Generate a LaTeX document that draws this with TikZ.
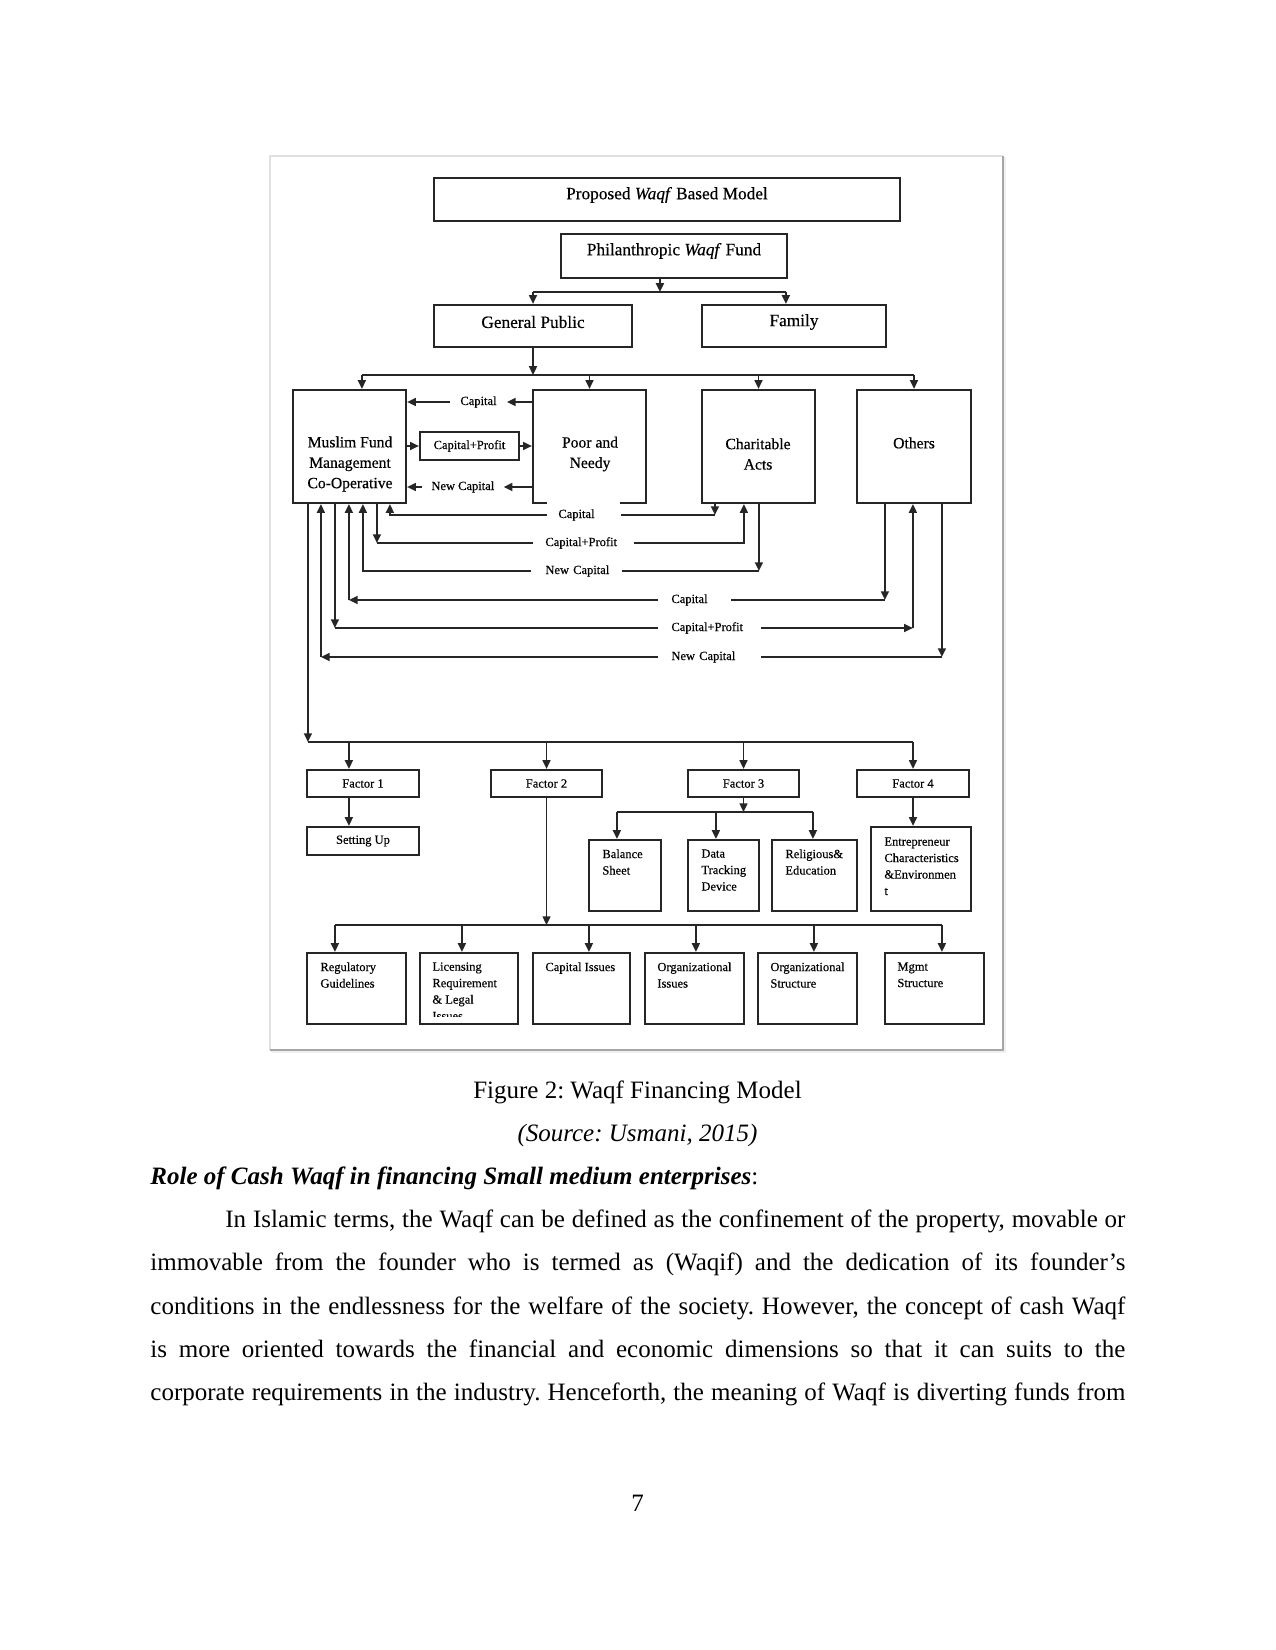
\documentclass[tikz,border=0pt]{standalone}
\usepackage{fontspec}
\setmainfont{Liberation Serif}
\newfontfamily\figfont[FakeBold=0.4]{Liberation Serif}
\usetikzlibrary{arrows.meta,calc,fit}
\begin{document}
\frenchspacing
\begin{tikzpicture}[x=0.48pt,y=-0.48pt,
 box/.style={draw=black!85, line width=1.05pt, inner sep=0pt},
 ln/.style={draw=black!85, line width=0.85pt},
 arr/.style={ln, -{Triangle[length=4.2pt,width=3.8pt]}},
 tbig/.style={inner sep=0pt, font=\figfont\fontsize{8.3}{10}\selectfont},
 tmid/.style={inner sep=0pt, align=center, font=\figfont\fontsize{7.5}{9.8}\selectfont},
 tsm/.style={inner sep=0pt, align=left, font=\figfont\fontsize{6}{7.9}\selectfont},
 tlbl/.style={inner ysep=0pt, font=\figfont\fontsize{6}{7.9}\selectfont},
 tbody/.style={inner sep=0pt, font=\fontsize{12}{14}\selectfont},
]
\useasboundingbox[fill=white] (0,0) rectangle (1275,1650);

% figure frame
\fill[black!6] (271,157) rectangle (1006,1053);
\fill[white] (270,156) rectangle (1003,1050);
\draw[black!12, line width=1pt] (270,1050) -- (270,156) -- (1003,156);
\draw[black!35, line width=1pt] (1003,156) -- (1003,1050) -- (270,1050);

% boxes
\node[box, fit={(434,178) (900,221)}] (prop) {};
\node[box, fit={(561,234) (787,278)}] (phil) {};
\node[box, fit={(434,305) (632,347)}] (gp) {};
\node[box, fit={(702,305) (886,347)}] (fam) {};
\node[box, fit={(293,390) (406,503)}] (mfmc) {};
\node[box, fit={(533,390) (646,503)}] (poor) {};
\node[box, fit={(702,390) (815,503)}] (char) {};
\node[box, fit={(857,390) (971,503)}] (oth) {};
\node[box, fit={(420,432) (519,460)}] (cpbox) {};
\node[box, fit={(307,770) (419,797)}] (f1) {};
\node[box, fit={(491,770) (602,797)}] (f2) {};
\node[box, fit={(688,770) (799,797)}] (f3) {};
\node[box, fit={(857,770) (969,797)}] (f4) {};
\node[box, fit={(307,827) (419,855)}] (setup) {};
\node[box, fit={(589,840) (661,911)}] (bal) {};
\node[box, fit={(688,840) (759,911)}] (data) {};
\node[box, fit={(772,840) (857,911)}] (rel) {};
\node[box, fit={(871,827) (971,911)}] (ent) {};
\node[box, fit={(307,953) (406,1024)}] (reg) {};
\node[box, fit={(420,953) (518,1024)}] (lic) {};
\node[box, fit={(533,953) (630,1024)}] (capi) {};
\node[box, fit={(645,953) (744,1024)}] (orgi) {};
\node[box, fit={(758,953) (857,1024)}] (orgs) {};
\node[box, fit={(885,953) (984,1024)}] (mgmt) {};

% box texts
\node[tbig] (propT) at (667,195) {Proposed \textit{Waqf} Based Model};
\node[tbig] (philT) at (674,251) {Philanthropic \textit{Waqf} Fund};
\node[tbig] (gpT) at (533,322) {General Public};
\node[tbig] (famT) at (794,322) {Family};
\node[tmid] (mfmcT) at (350,464) {Muslim Fund\\Management\\Co-Operative};
\node[tmid] (poorT) at (590,454) {Poor and\\Needy};
\node[tmid] (charT) at (758,454) {Charitable\\Acts};
\node[tmid] (othT) at (914,443) {Others};
\node[tlbl, inner xsep=0pt] (cpT) at (cpbox.center) {Capital+Profit};
\node[tlbl, inner xsep=0pt] (f1T) at (f1.center) {Factor 1};
\node[tlbl, inner xsep=0pt] (f2T) at (f2.center) {Factor 2};
\node[tlbl, inner xsep=0pt] (f3T) at (f3.center) {Factor 3};
\node[tlbl, inner xsep=0pt] (f4T) at (f4.center) {Factor 4};
\node[tlbl, inner xsep=0pt] (setupT) at (setup.center) {Setting Up};
\node[tsm, anchor=north west] (balT) at (602,849) {Balance\\Sheet};
\node[tsm, anchor=north west] (dataT) at (701,849) {Data\\Tracking\\Device};
\node[tsm, anchor=north west] (relT) at (785,849) {Religious\&\\Education};
\node[tsm, anchor=north west] (entT) at (884,837) {Entrepreneur\\Characteristics\\\&Environmen\\t};
\node[tsm, anchor=north west] (regT) at (320,962) {Regulatory\\Guidelines};
\begin{scope}
\clip (420,953) rectangle (518,1016);
\node[tsm, anchor=north west] (licT) at (432,962) {Licensing\\Requirement\\\& Legal\\Issues};
\end{scope}
\node[tsm, anchor=north west] (capiT) at (545,962) {Capital Issues};
\node[tsm, anchor=north west] (orgiT) at (657,962) {Organizational\\Issues};
\node[tsm, anchor=north west] (orgsT) at (770,962) {Organizational\\Structure};
\node[tsm, anchor=north west] (mgmtT) at (897,962) {Mgmt\\Structure};

% top connectors
\coordinate (busA) at (0,292);
\coordinate (philOut) at ($(phil.south west)+(100,0)$);
\coordinate (famIn) at ($(fam.north west)+(85,0)$);
\draw[arr] (philOut) -- (philOut |- busA);
\draw[ln] (gp.north |- busA) -- (famIn |- busA);
\draw[arr] (gp.north |- busA) -- (gp.north);
\draw[arr] (famIn |- busA) -- (famIn);

\coordinate (busB) at (0,375);
\coordinate (mfmcIn) at ($(mfmc.north west)+(70,0)$);
\draw[arr] (gp.south) -- (gp.south |- busB);
\draw[ln] (mfmcIn |- busB) -- (oth.north |- busB);
\draw[arr] (mfmcIn |- busB) -- (mfmcIn);
\draw[arr] (poor.north |- busB) -- (poor.north);
\draw[arr] (char.north |- busB) -- (char.north);
\draw[arr] (oth.north |- busB) -- (oth.north);

% MFMC <-> Poor
\node[tlbl, anchor=west, inner xsep=4.8pt] (T1) at (450,402) {Capital};
\node[tlbl, anchor=west, inner xsep=4.32pt] (T2) at (422,487) {New Capital};
\draw[arr] (poor.west |- T1) -- (T1.east);
\draw[arr] (T1.west) -- (mfmc.east |- T1);
\draw[arr] (poor.west |- T2) -- (T2.east);
\draw[arr] (T2.west) -- (mfmc.east |- T2);
\draw[arr] (mfmc.east |- cpbox) -- (cpbox.west);
\draw[arr] (cpbox.east) -- (poor.west |- cpbox);

% lower row labels
\node[tlbl, anchor=west, inner xsep=5.28pt, text width=24.48pt, align=left, minimum height=13.44pt, fill=white] (L1) at (547,515) {Capital};
\node[tlbl, anchor=west, inner xsep=5.76pt, text width=36.48pt, align=left] (L2) at (533,543) {\mbox{Capital+Profit}};
\node[tlbl, anchor=west, inner xsep=6.72pt, text width=29.76pt, align=left] (L3) at (531,571) {\mbox{New Capital}};
\node[tlbl, anchor=west, inner xsep=6.24pt, text width=22.08pt, align=left] (L4) at (658,600) {Capital};
\node[tlbl, anchor=west, inner xsep=6.24pt, text width=36.48pt, align=left] (L5) at (658,628) {\mbox{Capital+Profit}};
\node[tlbl, anchor=west, inner xsep=6.24pt, text width=36.48pt, align=left] (L6) at (658,657) {\mbox{New Capital}};

\coordinate (m1) at ($(mfmc.south west)+(98,0)$);
\coordinate (m2) at ($(mfmc.south west)+(85,0)$);
\coordinate (m3) at ($(mfmc.south west)+(71,0)$);
\coordinate (m4) at ($(mfmc.south west)+(57,0)$);
\coordinate (m5) at ($(mfmc.south west)+(43,0)$);
\coordinate (m6) at ($(mfmc.south west)+(29,0)$);
\coordinate (m7) at ($(mfmc.south west)+(16,0)$);
\coordinate (c1) at ($(char.south west)+(14,0)$);
\coordinate (c2) at ($(char.south west)+(43,0)$);
\coordinate (c3) at ($(char.south west)+(58,0)$);
\coordinate (o4) at ($(oth.south west)+(29,0)$);
\coordinate (o5) at ($(oth.south west)+(57,0)$);
\coordinate (o6) at ($(oth.south west)+(86,0)$);

% row 1
\draw[arr] (L1.west) -| (m1);
\draw[arr] (c1) -- (c1 |- L1);
\draw[ln] (c1 |- L1) -- (L1.east);
% row 2
\draw[arr] (m2) -- (m2 |- L2);
\draw[ln] (m2 |- L2) -- (L2.west);
\draw[arr] (L2.east) -| (c2);
% row 3
\draw[arr] (L3.west) -| (m3);
\draw[arr] (c3) -- (c3 |- L3);
\draw[ln] (c3 |- L3) -- (L3.east);
% row 4
\draw[arr] (m4 |- L4) -- (m4);
\draw[arr] (L4.west) -- (m4 |- L4);
\draw[arr] (o4) -- (o4 |- L4);
\draw[ln] (o4 |- L4) -- (L4.east);
% row 5
\draw[arr] (m5) -- (m5 |- L5);
\draw[ln] (m5 |- L5) -- (L5.west);
\draw[arr] (L5.east) -- (o5 |- L5);
\draw[arr] (o5 |- L5) -- (o5);
% row 6
\draw[arr] (m6 |- L6) -- (m6);
\draw[arr] (L6.west) -- (m6 |- L6);
\draw[arr] (o6) -- (o6 |- L6);
\draw[ln] (o6 |- L6) -- (L6.east);

% factor bus
\coordinate (busC) at (0,742);
\coordinate (f1In) at ($(f1.north west)+(43,0)$);
\coordinate (f1Out) at ($(f1.south west)+(43,0)$);
\draw[arr] (m7) -- (m7 |- busC);
\draw[ln] (m7 |- busC) -- (f4.north |- busC);
\draw[arr] (f1In |- busC) -- (f1In);
\draw[arr] (f2.north |- busC) -- (f2.north);
\draw[arr] (f3.north |- busC) -- (f3.north);
\draw[arr] (f4.north |- busC) -- (f4.north);
\draw[arr] (f1Out) -- (f1Out |- setup.north);

% factor 3 children
\coordinate (busD) at (0,812);
\coordinate (balIn) at ($(bal.north west)+(29,0)$);
\coordinate (dataIn) at ($(data.north west)+(29,0)$);
\coordinate (relIn) at ($(rel.north west)+(42,0)$);
\draw[arr] (f3.south) -- (f3.south |- busD);
\draw[ln] (balIn |- busD) -- (relIn |- busD);
\draw[arr] (balIn |- busD) -- (balIn);
\draw[arr] (dataIn |- busD) -- (dataIn);
\draw[arr] (relIn |- busD) -- (relIn);
\draw[arr] (f4.south) -- (f4.south |- ent.north);

% factor 2 children
\coordinate (busE) at (0,925);
\coordinate (regIn) at ($(reg.north west)+(29,0)$);
\coordinate (licIn) at ($(lic.north west)+(43,0)$);
\coordinate (capiIn) at ($(capi.north west)+(57,0)$);
\coordinate (orgiIn) at ($(orgi.north west)+(52,0)$);
\coordinate (orgsIn) at ($(orgs.north west)+(57,0)$);
\coordinate (mgmtIn) at ($(mgmt.north west)+(58,0)$);
\draw[arr] (f2.south) -- (f2.south |- busE);
\draw[ln] (regIn |- busE) -- (mgmtIn |- busE);
\draw[arr] (regIn |- busE) -- (regIn);
\draw[arr] (licIn |- busE) -- (licIn);
\draw[arr] (capiIn |- busE) -- (capiIn);
\draw[arr] (orgiIn |- busE) -- (orgiIn);
\draw[arr] (orgsIn |- busE) -- (orgsIn);
\draw[arr] (mgmtIn |- busE) -- (mgmtIn);

% page text
\node[tbody, anchor=base] (figcap) at (637.5,1098) {Figure 2: Waqf Financing Model};
\node[tbody, anchor=base] (src) at (637.5,1141) {\textit{(Source: Usmani, 2015)}};
\node[tbody, anchor=base west] (head) at (150,1184) {\textbf{\textit{Role of Cash Waqf in financing Small medium enterprises}}:};
\node[tbody, anchor=base west] (p1) at (225,1227) {\makebox[432pt][s]{In Islamic terms, the Waqf can be defined as the confinement of the property, movable or}};
\node[tbody, anchor=base west] (p2) at (150,1270) {\makebox[468pt][s]{immovable from the founder who is termed as (Waqif) and the dedication of its founder’s}};
\node[tbody, anchor=base west] (p3) at (150,1314) {\makebox[468pt][s]{conditions in the endlessness for the welfare of the society. However, the concept of cash Waqf}};
\node[tbody, anchor=base west] (p4) at (150,1357) {\makebox[468pt][s]{is more oriented towards the financial and economic dimensions so that it can suits to the}};
\node[tbody, anchor=base west] (p5) at (150,1400) {\makebox[468pt][s]{corporate requirements in the industry. Henceforth, the meaning of Waqf is diverting funds from}};
\node[tbody, anchor=base] (pg) at (637.5,1511) {7};
\end{tikzpicture}
\end{document}
